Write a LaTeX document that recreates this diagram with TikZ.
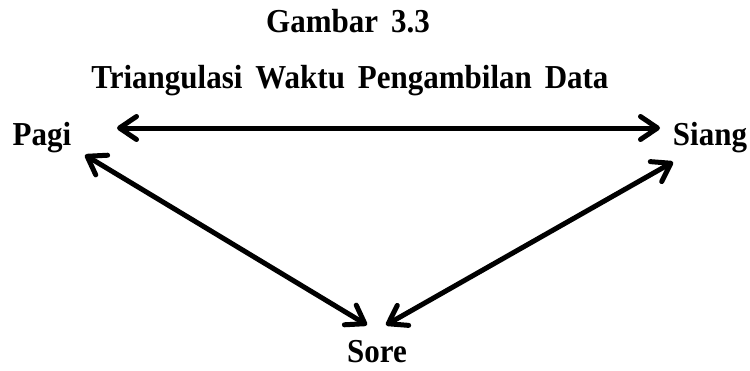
\documentclass[tikz,border=0pt]{standalone}
\usepackage{fontspec}
\setmainfont{Liberation Serif}
\usetikzlibrary{arrows.meta}
\newcommand{\tallbold}[1]{\scalebox{1}[1.08]{\bfseries\fontsize{31}{34}\selectfont #1}}
\begin{document}
\begin{tikzpicture}[x=1pt,y=-1pt,
  lbl/.style={inner sep=0pt, anchor=base},
  conn/.style={line width=5pt, line cap=round, {Straight Barb[length=17pt,width=23pt,line width=5pt,round]}-{Straight Barb[length=17pt,width=23pt,line width=5pt,round]}}]
\useasboundingbox (0,0) rectangle (750,370);
\node[lbl] (title) at (348,32) {\tallbold{Gambar\, 3.3}};
\node[lbl] (sub) at (350,88) {\tallbold{Triangulasi\, Waktu\, Pengambilan\, Data}};
\node[lbl] (pagi) at (42,145) {\tallbold{Pagi}};
\node[lbl] (siang) at (710,145) {\tallbold{Siang}};
\node[lbl] (sore) at (377,362) {\tallbold{Sore}};
\coordinate (h1) at (117,128);
\coordinate (h2) at (660,128);
\coordinate (p1) at (85,155);
\coordinate (p2) at (367,325);
\coordinate (s1) at (673,162);
\coordinate (s2) at (386,325);
\draw[conn] (h1) -- (h2);
\draw[conn] (p1) -- (p2);
\draw[conn] (s1) -- (s2);
\end{tikzpicture}
\end{document}
